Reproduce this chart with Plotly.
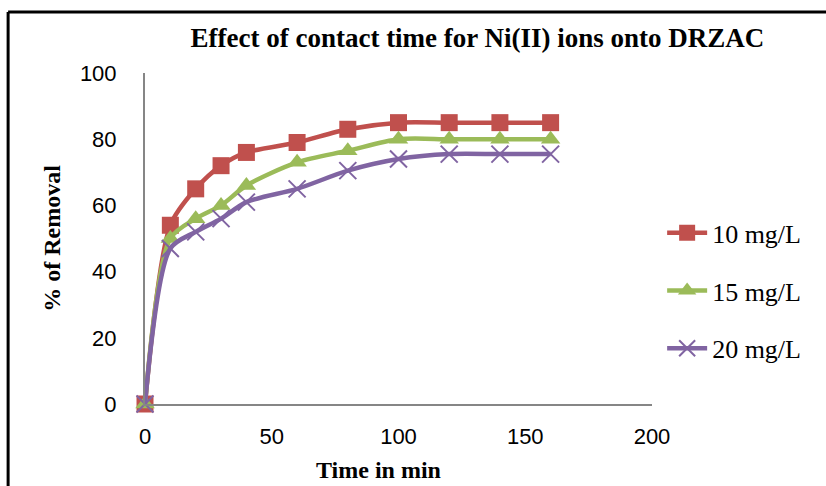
import plotly.graph_objects as go

time_min = [0, 10, 20, 30, 40, 60, 80, 100, 120, 140, 160]
removal_10 = [0, 54, 65, 72, 76, 79, 83, 85, 85, 85, 85]
removal_15 = [0, 50, 56, 60, 66, 73, 76.5, 80, 80, 80, 80]
removal_20 = [0, 47, 52, 56, 61, 65, 70.5, 74, 75.5, 75.5, 75.5]

series = [
    ("10 mg/L", removal_10, "#C0504D", "square", 17, None),
    ("15 mg/L", removal_15, "#9BBB59", "triangle-up", 17, None),
    ("20 mg/L", removal_20, "#8064A2", "x-thin", 17, 2),
]

fig = go.Figure()
for name, vals, color, sym, size, lw in series:
    marker = dict(symbol=sym, size=size, color=color)
    if lw:
        marker["line"] = dict(color=color, width=lw)
    fig.add_trace(go.Scatter(
        x=time_min, y=vals, name=name, legendgroup=name, mode="lines+markers",
        line=dict(color=color, width=4.5, shape="spline", smoothing=0.8),
        marker=marker, cliponaxis=False,
    ))

axis_font = dict(family="Liberation Sans, Arial, sans-serif", size=22, color="#000000")
title_font = dict(family="Liberation Serif, Times New Roman, serif", size=24, color="#000000")

fig.update_layout(
    width=826, height=486,
    margin=dict(l=145, r=174, t=73, b=82),
    paper_bgcolor="white", plot_bgcolor="white",
    title=dict(text="<b>Effect of contact time for Ni(II) ions onto DRZAC</b>",
               x=0.578, xanchor="center", y=0.922, yanchor="middle",
               font=dict(family="Liberation Serif, Times New Roman, serif", size=27, color="#000000")),
    xaxis=dict(range=[0, 200], tickvals=[0, 50, 100, 150, 200], showgrid=False, zeroline=False,
               showline=True, linecolor="#868686", linewidth=2, ticks="", tickfont=axis_font,
               ticklabelstandoff=12),
    yaxis=dict(range=[0, 100], tickvals=[0, 20, 40, 60, 80, 100], showgrid=False, zeroline=False,
               showline=True, linecolor="#868686", linewidth=2, ticks="", tickfont=axis_font,
               ticklabelstandoff=22,
               title=dict(text="<b>% of Removal</b>", font=title_font, standoff=12)),
    legend=dict(x=1.02, y=0.342, xanchor="left", yanchor="middle",
                font=dict(family="Liberation Serif, Times New Roman, serif", size=26, color="#000000"),
                tracegroupgap=21, itemwidth=40, bgcolor="rgba(0,0,0,0)"),
    showlegend=True,
)

fig.add_annotation(text="<b>Time in min</b>", xref="paper", yref="paper",
                   x=0.46, y=-0.199, xanchor="center", yanchor="middle",
                   showarrow=False, font=title_font)

# outer chart border (left and top edges visible)
fig.add_shape(type="line", xref="paper", yref="paper", x0=-0.270, x1=1.6, y0=1.184, y1=1.184,
              line=dict(color="black", width=3))
fig.add_shape(type="line", xref="paper", yref="paper", x0=-0.270, x1=-0.270, y0=-0.4, y1=1.184,
              line=dict(color="black", width=3))

fig.write_html("out.html")
